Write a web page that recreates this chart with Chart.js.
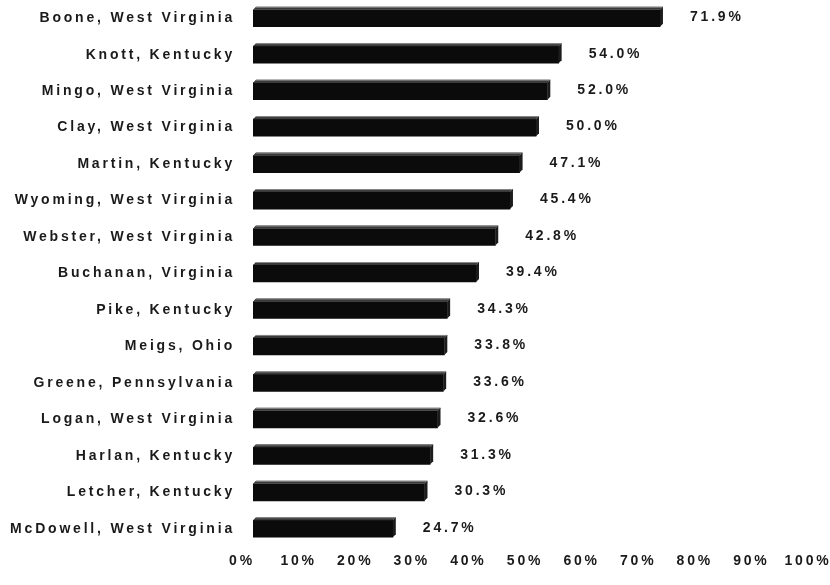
<!DOCTYPE html>
<html>
<head>
<meta charset="utf-8">
<script src="https://cdn.jsdelivr.net/npm/chart.js@4/dist/chart.umd.min.js"></script>
<style>
  html, body { margin: 0; padding: 0; background: #fff; }
  canvas { display: block; }
</style>
</head>
<body>
<canvas id="chart" width="830" height="585"></canvas>
<script>
const counties = [
  "Boone, West Virginia", "Knott, Kentucky", "Mingo, West Virginia",
  "Clay, West Virginia", "Martin, Kentucky", "Wyoming, West Virginia",
  "Webster, West Virginia", "Buchanan, Virginia", "Pike, Kentucky",
  "Meigs, Ohio", "Greene, Pennsylvania", "Logan, West Virginia",
  "Harlan, Kentucky", "Letcher, Kentucky", "McDowell, West Virginia",
];
const percents = [71.9, 54.0, 52.0, 50.0, 47.1, 45.4, 42.8, 39.4, 34.3, 33.8, 33.6, 32.6, 31.3, 30.3, 24.7];
const xTicks = [0, 10, 20, 30, 40, 50, 60, 70, 80, 90, 100];

const FONT = { family: "'Liberation Sans', Arial, sans-serif", size: 14, weight: "bold" };
const SPACING = "2.8px";
const TEXT = "#1a1a1a";

// canvas has no letter-spacing option in Chart.js, so set it on the context
const spacingPlugin = {
  id: "spacing",
  beforeLayout(chart) { chart.ctx.letterSpacing = SPACING; },
  beforeDraw(chart) { chart.ctx.letterSpacing = SPACING; },
};

// fake the old 3D bar look: top face + right side face
const bar3d = {
  id: "bar3d",
  afterDatasetsDraw(chart) {
    const ctx = chart.ctx;
    const d = 3;
    chart.getDatasetMeta(0).data.forEach((el) => {
      const { x, y, base, height } = el.getProps(["x", "y", "base", "height"], true);
      const top = y - height / 2, bottom = y + height / 2;
      ctx.save();
      ctx.fillStyle = "#3a3a3a";
      ctx.beginPath();
      ctx.moveTo(base, top);
      ctx.lineTo(base + d, top - d);
      ctx.lineTo(x + d, top - d);
      ctx.lineTo(x, top);
      ctx.closePath();
      ctx.fill();
      ctx.strokeStyle = "#8a8a8a";
      ctx.lineWidth = 1;
      ctx.beginPath();
      ctx.moveTo(base + d, top - d + 0.5);
      ctx.lineTo(x + d, top - d + 0.5);
      ctx.stroke();
      ctx.fillStyle = "#1c1c1c";
      ctx.beginPath();
      ctx.moveTo(x, top);
      ctx.lineTo(x + d, top - d);
      ctx.lineTo(x + d, bottom - d);
      ctx.lineTo(x, bottom);
      ctx.closePath();
      ctx.fill();
      ctx.restore();
    });
  },
};

const valueLabels = {
  id: "valueLabels",
  afterDatasetsDraw(chart) {
    const ctx = chart.ctx;
    ctx.save();
    ctx.letterSpacing = SPACING;
    ctx.font = `${FONT.weight} ${FONT.size}px ${FONT.family}`;
    ctx.fillStyle = TEXT;
    ctx.textAlign = "left";
    ctx.textBaseline = "middle";
    chart.getDatasetMeta(0).data.forEach((el, i) => {
      ctx.fillText(percents[i].toFixed(1) + "%", el.x + 30, el.y - 1);
    });
    ctx.restore();
  },
};

new Chart(document.getElementById("chart"), {
  type: "bar",
  data: {
    labels: counties,
    datasets: [{
      data: percents,
      backgroundColor: "#0b0b0b",
      borderWidth: 0,
      barThickness: 17,
    }],
  },
  options: {
    indexAxis: "y",
    responsive: false,
    animation: false,
    layout: { padding: { top: 0, right: 11, bottom: 0, left: 0 } },
    plugins: { legend: { display: false }, tooltip: { enabled: false } },
    scales: {
      y: {
        grid: { display: false, drawTicks: false },
        border: { display: false },
        ticks: { color: TEXT, font: FONT, padding: 18, autoSkip: false },
        afterFit(scale) {
          scale.width = 253;
          scale.paddingTop = 0;
          scale.paddingBottom = 0;
        },
      },
      x: {
        min: 0,
        max: 100,
        afterBuildTicks(scale) { scale.ticks = xTicks.map((v) => ({ value: v })); },
        grid: { display: false, drawTicks: false },
        border: { display: false },
        ticks: {
          color: TEXT,
          font: FONT,
          padding: 6,
          maxRotation: 0,
          labelOffset: -11,
          callback: (v) => v + "%",
        },
        afterFit(scale) {
          scale.height = 38;
          scale.paddingLeft = 0;
          scale.paddingRight = 0;
        },
      },
    },
  },
  plugins: [spacingPlugin, bar3d, valueLabels],
});
</script>
</body>
</html>
